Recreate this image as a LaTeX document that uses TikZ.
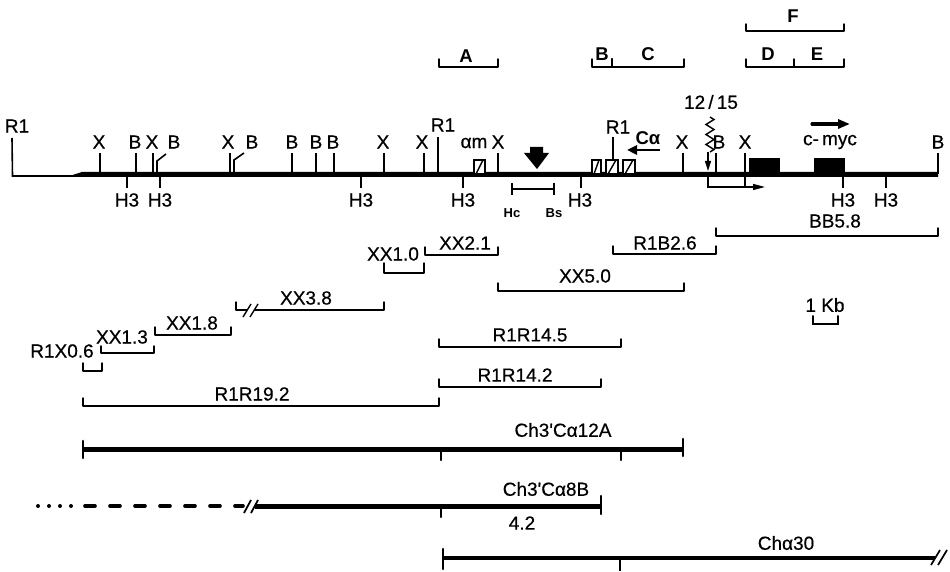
\documentclass[tikz,border=0pt]{standalone}
\usepackage{fontspec}
\setmainfont{Liberation Sans}
\newfontfamily\labfont{Liberation Sans}[FakeBold=0.5]
\usetikzlibrary{arrows.meta,decorations.pathmorphing}
\newcounter{lbcount}
\newcommand{\lbl}[4][lab]{\stepcounter{lbcount}\node[#1] (n\arabic{lbcount}) at (#2,#3) {#4};}
\newcommand{\brk}[4]{\draw[thin line] (#1,#4) |- (#2,#3) -- (#2,#4);}
\tikzset{
 x=1pt,y=-1pt,
 lab/.style={font=\fontsize{19}{19}\selectfont\labfont,inner sep=0pt,text=black},
 head lab/.style={font=\fontsize{18.5}{19}\selectfont\bfseries,inner sep=0pt,text=black},
 smalllab/.style={font=\fontsize{13}{13}\selectfont\bfseries,inner sep=0pt},
 thin line/.style={line width=1.4pt,line cap=round,line join=round},
 tick line/.style={line width=1.6pt},
 clone line/.style={line width=5pt},
 cap line/.style={line width=2.6pt,line cap=round},
 hatch box/.style={draw,line width=1.6pt,fill=white},
 black box/.style={fill=black,draw=black,line width=.5pt},
}
\begin{document}
\begin{tikzpicture}
\useasboundingbox (0,0) rectangle (950,572);
% main map
\draw[line width=1.6pt] (12,138) -- (12.5,176) -- (82,176);
\fill (70,175.8) -- (82,172) -- (938,172) -- (938,176.8) -- (82,176.8) -- cycle;
% upward ticks
\foreach \x in {100,136,153,230,292,316,334,384,424,498,683,716,938}
  \draw[tick line] (\x,153) -- (\x,174);
\draw[tick line] (745,153) -- (745,187);
\draw[tick line] (438,137) -- (438,174);
\draw[tick line] (157,174) -- (157,161) -- (166,154);
\draw[tick line] (234,174) -- (234,160) -- (244,153);
% downward ticks
\foreach \x in {127,160,361,463,581,843,886}
  \draw[tick line] (\x,174) -- (\x,188);
% exon boxes
\foreach \a/\b in {474/485,592/601,606/618,623/635}{
  \draw[hatch box] (\a,160) rectangle (\b,174);
  \draw[line width=1.4pt] (\a+2,174) -- (\b-2,160);
}
\draw[tick line] (613,137) -- (613,160);
\fill[black box] (749,158) rectangle (779,174);
\fill[black box] (814,158) rectangle (844,174);
% big arrow
\fill (530,147) -- (543,147) -- (543,153) -- (549,153) -- (537,169) -- (524,153) -- (530,153) -- cycle;
% C alpha arrow
\draw[line width=2.4pt,-{Triangle[length=10pt,width=9pt]}] (660,150) -- (627,150);
% c-myc arrow
\draw[line width=3.2pt,line cap=round,-{Triangle[length=12pt,width=9pt]}] (812,124) -- (850,124);
% translocation
\draw[line width=1.4pt,decorate,decoration={zigzag,segment length=10pt,amplitude=4pt}] (710,117) -- (710,152);
\draw[line width=1.4pt,-{Triangle[length=10pt,width=6pt]}] (708,152) -- (708,171);
\draw[line width=1.4pt,-{Triangle[length=12pt,width=6pt]}] (708,174) -- (708,187) -- (765,187);
% Hc-Bs
\draw[line width=1.8pt] (512,183) -- (512,195) (554,183) -- (554,195) (512,189) -- (554,189);
% top brackets
\brk{439}{498}{67}{59}
\brk{592}{612}{67}{59}
\brk{612}{684}{67}{59}
\draw[thin line] (612,59) -- (612,67);
\brk{746}{844}{31}{24}
\brk{746}{844}{67}{59}
\draw[thin line] (794,59) -- (794,67);
% fragment brackets
\brk{716}{938}{236}{228}
\brk{613}{716}{254}{246}
\brk{425}{498}{255}{247}
\brk{384}{424}{273}{263}
\brk{498}{684}{291}{283}
\brk{236}{384}{310}{302}
\draw[white,line width=3pt] (247,310) -- (255,310);
\draw[line width=1.4pt] (243,317) -- (251,304) (250,317) -- (258,304);
\brk{155}{231}{335}{327}
\brk{101}{154}{353}{346}
\brk{83}{102}{371}{363}
\brk{83}{439}{406}{398}
\brk{439}{621}{347}{339}
\brk{439}{601}{387}{379}
% scale
\draw[line width=2pt,line cap=round] (813,316) -- (813,324) -- (838,324) -- (838,316);
% clones
\draw[clone line] (83,449) -- (683,449);
\draw[cap line] (83,441) -- (83,458);
\draw[cap line] (683,439) -- (683,456);
\draw[line width=2.2pt,line cap=round] (441,449) -- (441,460) (621,449) -- (621,460);
\draw[clone line] (255,506) -- (601,506);
\draw[line width=4pt,line cap=round,dash pattern=on 0pt off 11pt] (38,506) -- (72,506);
\draw[line width=3.6pt,line cap=round,dash pattern=on 10pt off 15pt] (85,506) -- (243,506);
\draw[line width=1.8pt] (244,513) -- (251,500) (251,513) -- (258,500);
\draw[cap line] (601,496) -- (601,514);
\draw[line width=2.2pt,line cap=round] (441,506) -- (441,517);
\draw[line width=4pt] (443,558) -- (935,558);
\draw[cap line] (443,549) -- (443,569);
\draw[line width=2.2pt] (620,558) -- (620,571);
\draw[line width=1.7pt] (931,565) -- (940,550) (938,565) -- (947,550);
% labels
\lbl{17}{126}{R1}
\foreach \x/\t in {99/X,135/B,152/X,174/B,228/X,252/B,292/B,316/B,333/B,383/X,422/X,498/X,682/X,719/B,745/X,938/B}
  {\lbl{\x}{142}{\t}}
\lbl{443}{125}{R1}
\lbl{474}{143}{αm}
\lbl{618}{127}{R1}
\lbl[head lab]{648}{138}{Cα}
\lbl{711}{102}{12\,/\,15}
\lbl{830}{142}{c-\,myc}
\foreach \x in {127,160,361,463,580,843,886}
  {\lbl{\x}{200}{H3}}
\lbl[smalllab]{512}{213}{Hc}
\lbl[smalllab]{554}{213}{Bs}
\lbl[head lab]{466}{56}{A}
\lbl[head lab]{602}{54}{B}
\lbl[head lab]{648}{54}{C}
\lbl[head lab]{793}{16}{F}
\lbl[head lab]{768}{54}{D}
\lbl[head lab]{817}{54}{E}
\lbl{835}{221}{BB5.8}
\lbl{665}{243}{R1B2.6}
\lbl{465}{243}{XX2.1}
\lbl{393}{254}{XX1.0}
\lbl{585}{276}{XX5.0}
\lbl{306}{298}{XX3.8}
\lbl{192}{323}{XX1.8}
\lbl{122}{337}{XX1.3}
\lbl{62}{351}{R1X0.6}
\lbl{252}{394}{R1R19.2}
\lbl{530}{335}{R1R14.5}
\lbl{515}{375}{R1R14.2}
\lbl{825}{305}{1 Kb}
\lbl{563}{430}{Ch3'Cα12A}
\lbl{546}{489}{Ch3'Cα8B}
\lbl{522}{523}{4.2}
\lbl{786}{543}{Chα30}
\end{tikzpicture}
\end{document}
